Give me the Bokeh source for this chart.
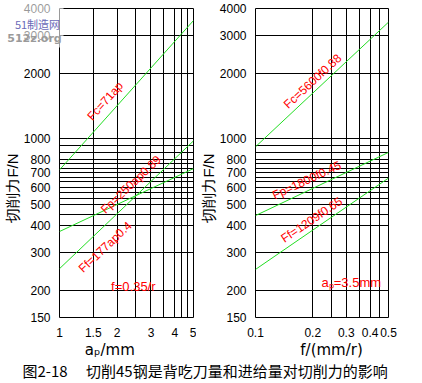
import math
from bokeh.plotting import figure
from bokeh.layouts import column, row
from bokeh.models import FixedTicker, Label, BoxAnnotation, BasicTickFormatter, Range1d
from bokeh.embed import file_html
from bokeh.resources import INLINE

# ---------------- data ----------------
f_tick_labels = [150, 200, 300, 400, 500, 600, 700, 800, 1000, 2000, 3000, 4000]
f_grid = [150, 200, 300, 400, 450, 500, 533, 567, 600, 633, 667, 700, 733, 767,
          800, 867, 933, 1000, 2000, 3000, 4000]
ap_ticks = [1, 1.5, 2, 3, 4, 5]
ap_grid = [1, 1.5, 2, 2.5, 3, 3.5, 4, 4.33, 4.67, 5]
feed_ticks = [0.1, 0.2, 0.3, 0.4, 0.5]
feed_grid = [0.1, 0.2, 0.25, 0.3, 0.35, 0.4, 0.45, 0.5]

# left panel: force vs back engagement ap (f = 0.35)
ap_ends = [1, 5]
Fc_ap = [720, 3520]
Fp_ap = [252, 980]
Ff_ap = [374, 730]
# right panel: force vs feed f (ap = 3.5)
feed_ends = [0.1, 0.5]
Fc_f = [920, 3460]
Fp_f = [443, 867]
Ff_f = [250, 660]

label_Fc_ap = "Fc=71ap"
label_Fp_ap = "Fp=250ap0.89"
label_Ff_ap = "Ff=177ap0.4"
label_Fc_f = "Fc=5600f0.88"
label_Fp_f = "Fp=1800f0.45"
label_Ff_f = "Ff=1209f0.65"
note_left = "f=0.35/r"
note_right = "aₚ=3.5mm"
ytitle = "切削力F/N"
xtitle_left = "aₚ/mm"
xtitle_right = "f/(mm/r)"
caption = "图2-18　 切削45钢是背吃刀量和进给量对切削力的影响"
watermark_1 = "51制造网"
watermark_2 = "512z.org"

# ---------------- geometry (page px) ----------------
F_MIN, F_MAX = 150, 4000
FR_TOP, FR_BOT = 8, 318
L_X0, L_X1 = 58, 193
R_X0, R_X1 = 253, 388
ROW_H = 361
CAP_H = 22
WL, WR = 196, 226
NB = "\u00a0"

GREEN = "#22dd22"
RED = "#ff0000"
TICK_FONT = "Liberation Sans"
CJK = "Noto Sans CJK SC"


def conv(d0, d1, p0, p1):
    l0, l1 = math.log10(d0), math.log10(d1)
    return lambda p: 10 ** (l0 + (p - p0) / (p1 - p0) * (l1 - l0))


Ypx = conv(F_MAX, F_MIN, FR_TOP, FR_BOT)
XL = conv(1, 5, L_X0, L_X1)
XR = conv(0.1, 0.5, R_X0, R_X1)


def make_panel(width, bleft, bright, xr, xticks, xgrid, xtitle):
    p = figure(width=width, height=ROW_H, x_axis_type="log", y_axis_type="log",
               x_range=xr, y_range=(F_MIN, F_MAX), toolbar_location=None,
               output_backend="svg", min_border_left=bleft, min_border_right=bright,
               min_border_top=FR_TOP, min_border_bottom=ROW_H - FR_BOT)
    p.background_fill_color = "white"
    p.border_fill_color = "white"
    p.outline_line_color = "black"
    p.outline_line_width = 1
    for ax in (p.xaxis[0], p.yaxis[0]):
        ax.axis_line_color = None
        ax.major_tick_line_color = None
        ax.minor_tick_line_color = None
        ax.major_tick_out = 0
        ax.major_tick_in = 0
        ax.minor_tick_out = 0
        ax.minor_tick_in = 0
        ax.formatter = BasicTickFormatter()
        ax.major_label_text_font = TICK_FONT
        ax.major_label_text_font_size = "12px"
        ax.major_label_text_color = "black"
        ax.axis_label_text_font_style = "normal"
        ax.axis_label_text_color = "black"
        ax.axis_label_text_font_size = "15px"
    p.xaxis.ticker = FixedTicker(ticks=xticks)
    p.yaxis.ticker = FixedTicker(ticks=f_tick_labels)
    p.xaxis.major_label_standoff = 10
    p.yaxis.major_label_standoff = 9
    p.xaxis.axis_label = xtitle
    p.xaxis.axis_label_text_font = "DejaVu Sans"
    p.xaxis.axis_label_standoff = 1
    p.yaxis.axis_label = ytitle + NB * 12
    p.yaxis.axis_label_text_font = "Liberation Sans"
    p.yaxis.axis_label_standoff = 0
    p.xgrid.ticker = FixedTicker(ticks=xgrid)
    p.ygrid.ticker = FixedTicker(ticks=f_grid)
    for g in (p.xgrid[0], p.ygrid[0]):
        g.grid_line_color = "black"
        g.grid_line_width = 1
        g.grid_line_alpha = 1
    return p


def line_label(p, xs, Fs, xconv_px, xlo, xhi, px_at, text, voff):
    """Red formula text laid along a line, voff px above (+) / below (-) it."""
    x0, x1 = xs
    F0, F1 = Fs
    k = math.log(F1 / F0) / math.log(x1 / x0)
    xc = xconv_px(px_at)
    Fc = F0 * (xc / x0) ** k
    dx = math.log10(x1 / x0) / math.log10(xhi / xlo) * (L_X1 - L_X0)
    dy = math.log10(F1 / F0) / math.log10(F_MAX / F_MIN) * (FR_BOT - FR_TOP)
    a = math.atan2(dy, dx)
    p.add_layout(Label(x=xc, y=Fc, text=text, angle=a, y_offset=voff,
                       text_align="center", text_baseline="middle",
                       text_color=RED, text_font=TICK_FONT, text_font_size="12px"))


# ---------------- left panel ----------------
pL = make_panel(WL, L_X0, WL - L_X1, (1, 5), ap_ticks, ap_grid, xtitle_left + NB * 7)
pL.line(ap_ends, Fc_ap, color=GREEN, line_width=1)
pL.line(ap_ends, Fp_ap, color=GREEN, line_width=1)
pL.line(ap_ends, Ff_ap, color=GREEN, line_width=1)
line_label(pL, ap_ends, Fc_ap, XL, 1, 5, 104, label_Fc_ap, 18)
line_label(pL, ap_ends, Fp_ap, XL, 1, 5, 130, label_Fp_ap, 16)
line_label(pL, ap_ends, Fp_ap, XL, 1, 5, 104, label_Ff_ap, -22)
pL.add_layout(Label(x=XL(110), y=Ypx(287), text=note_left, text_align="left",
                    text_baseline="middle", text_color=RED, text_font=TICK_FONT,
                    text_font_size="13px"))

# ---------------- right panel ----------------
pR = make_panel(WR, R_X0 - WL, (WL + WR) - R_X1, (0.1, 0.5), feed_ticks, feed_grid,
                NB * 4 + xtitle_right)
pR.line(feed_ends, Fc_f, color=GREEN, line_width=1)
pR.line(feed_ends, Fp_f, color=GREEN, line_width=1)
pR.line(feed_ends, Ff_f, color=GREEN, line_width=1)
line_label(pR, feed_ends, Fc_f, XR, 0.1, 0.5, 311, label_Fc_f, 12)
line_label(pR, feed_ends, Fp_f, XR, 0.1, 0.5, 305, label_Fp_f, 11)
line_label(pR, feed_ends, Ff_f, XR, 0.1, 0.5, 310, label_Ff_f, 11)
pR.add_layout(Label(x=XR(320), y=Ypx(283), text=note_right, text_align="left",
                    text_baseline="middle", text_color=RED, text_font=TICK_FONT,
                    text_font_size="13px"))

# ---------------- caption ----------------
pC = figure(width=WL + WR, height=CAP_H, x_range=(0, WL + WR), y_range=(0, CAP_H),
            toolbar_location=None, output_backend="svg", min_border=0)
pC.axis.visible = False
pC.grid.visible = False
pC.outline_line_color = None
pC.background_fill_color = "white"
pC.border_fill_color = "white"
pC.add_layout(Label(x=22, y=CAP_H - 9, text=caption, text_align="left",
                    text_baseline="middle", text_color="black", text_font=CJK,
                    text_font_size="15px"))

# ---------------- watermark overlay (transparent figure on top, top-left) ----------------
WW, WH = 64, 48
pW = figure(width=WW, height=WH, x_range=Range1d(0, WW), y_range=Range1d(WH, 0),
            toolbar_location=None, output_backend="svg", min_border=0)
pW.axis.visible = False
pW.grid.visible = False
pW.outline_line_color = None
pW.background_fill_alpha = 0
pW.border_fill_alpha = 0
pW.add_layout(BoxAnnotation(left=0, right=63, top=0, bottom=47, fill_color="white",
                            fill_alpha=0.6, line_color=None))
pW.add_layout(Label(x=37, y=23, text=watermark_1, text_align="center",
                    text_baseline="middle", text_color="#6a6ab8", text_font=CJK,
                    text_font_size="11px"))
pW.add_layout(Label(x=34, y=38, text=watermark_2, text_align="center",
                    text_baseline="middle", text_color="#9a9a9a", text_font="DejaVu Sans",
                    text_font_style="bold", text_font_size="11px"))
pW.margin = (-(ROW_H + CAP_H), 0, 0, 0)

layout = column(row(pL, pR), pC, pW)
open("out.html", "w").write(file_html(layout, INLINE))
